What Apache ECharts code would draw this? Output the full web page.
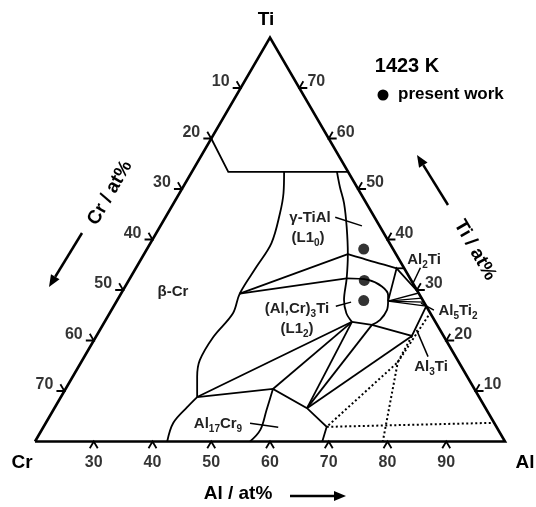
<!DOCTYPE html>
<html>
<head>
    <meta charset="utf-8">
    <title>Al-Cr-Ti 1423 K</title>
    <script src="https://cdn.jsdelivr.net/npm/echarts@6/dist/echarts.min.js"></script>
    <style>
        html, body { margin: 0; padding: 0; background: #fff; }
        #chart { width: 536px; height: 507px; }
    </style>
</head>
<body>
<div id="chart"></div>
<script>
    // every point is [Al at%, Ti at%], Cr = 100 - Al - Ti
    var alTicks = [30, 40, 50, 60, 70, 80, 90];
    var crTicks = [10, 20, 30, 40, 50, 60, 70];
    var tiTicks = [10, 20, 30, 40, 50, 60, 70];

    var frame = [[20, 0], [100, 0], [20, 80], [20, 0]];

    // curved boundaries
    var betaBoundary = [[35.7, 53.4], [37.7, 49.2], [39.1, 45.2], [40.6, 39.3], [40.4, 34.6], [40.2, 29.3], [41.0, 25.4],
        [40.0, 20.7], [40.0, 16.1], [41.2, 12.8], [43.2, 8.8]];
    var al17cr9Left = [[43.2, 8.8], [42.5, 6.8], [41.7, 3.7], [42.5, 0]];
    var gammaRight = [[44.7, 53.4], [46.7, 50.4], [49.0, 47.2], [51.8, 42.5], [54.7, 37.1], [56.9, 32.3], [58.6, 28.0],
        [60.3, 25.4], [62.1, 23.7]];
    var upperArc = [[54.7, 37.1], [57.1, 36.4], [60.1, 35.5], [64.4, 34.3]];
    var middleArc = [[56.9, 32.3], [60.7, 32.0], [63.7, 30.7], [65.6, 29.0], [66.2, 27.8]];
    var l12Edge = [[65.8, 23.1], [66.7, 24.1], [66.9, 26.0], [66.2, 27.8]];
    var al17cr9Right = [[55.3, 10.4], [56.3, 6.2], [57.2, 2.3], [56.6, 0]];

    // straight boundaries and tie lines
    var straightLines = [
        [[20, 60], [26.2, 53.4], [46.6, 53.4]],
        [[40.2, 29.3], [54.7, 37.1]],
        [[40.2, 29.3], [56.9, 32.3]],
        [[64.4, 34.3], [65.7, 34.3]],
        [[62.1, 23.7], [65.8, 23.1]],
        [[66.2, 27.8], [64.4, 34.3], [70.4, 29.6]],
        [[62.1, 23.7], [43.2, 8.8]],
        [[62.1, 23.7], [55.3, 10.4]],
        [[62.1, 23.7], [63.0, 6.6]],
        [[65.8, 23.1], [63.0, 6.6]],
        [[65.8, 23.1], [73.7, 20.9], [73.2, 26.8]],
        [[73.7, 20.9], [63.0, 6.6]],
        [[43.2, 8.8], [55.3, 10.4], [63.0, 6.6], [68.2, 2.9], [68.9, 0]]
    ];
    var fanLines = [
        [[66.2, 27.8], [70.6, 29.4]],
        [[66.2, 27.8], [71.6, 28.4]],
        [[66.2, 27.8], [72.4, 27.6]],
        [[66.2, 27.8], [73.2, 26.8]]
    ];
    var dottedLines = [
        [[74.5, 24.9], [73.9, 15.7], [79.2, 0]],
        [[73.7, 20.9], [73.9, 15.7], [68.2, 2.9], [96.3, 3.7]]
    ];
    var pointers = [
        [[48.9, 44.4], [54.3, 42.7]],
        [[68.4, 34.4], [68.7, 31.0]],
        [[72.0, 27.4], [74.9, 26.0]],
        [[73.9, 22.1], [78.5, 16.8]],
        [[57.8, 26.8], [60.0, 27.6]],
        [[54.8, 3.6], [60.0, 2.8]]
    ];
    var presentWork = [[56.9, 38.1], [60.1, 31.9], [62.0, 27.9]];

    var FONT = 'Liberation Sans, Arial, sans-serif';
    var S3 = Math.sqrt(3) / 2;

    function tern(p) {
        return [p[0] + p[1] / 2, p[1] * S3];
    }
    function toCoords(list) {
        return list.map(function (line) { return { coords: line.map(tern) }; });
    }

    // tick marks: short stubs of the two other grid directions
    var T = 1.35;
    var ticks = [];
    alTicks.forEach(function (a) {
        var p = tern([a, 0]);
        ticks.push({ coords: [[p[0] - T * 0.5, p[1] - T * S3], p, [p[0] + T * 0.5, p[1] - T * S3]] });
    });
    crTicks.forEach(function (c) {
        var p = tern([20, 80 - c]);
        ticks.push({ coords: [[p[0] - T, p[1]], p, [p[0] - T * 0.5, p[1] + T * S3]] });
    });
    tiTicks.forEach(function (t) {
        var p = tern([100 - t, t]);
        ticks.push({ coords: [[p[0] + T, p[1]], p, [p[0] + T * 0.5, p[1] + T * S3]] });
    });

    function tickLabels(vals, comp, opts) {
        return {
            type: 'scatter', symbolSize: 1, clip: false, silent: true,
            itemStyle: { color: 'transparent' },
            data: vals.map(function (v) { return { value: tern(comp(v)), name: String(v) }; }),
            label: Object.assign({
                show: true, position: 'inside', formatter: '{b}', color: '#000',
                fontSize: 16, fontWeight: 'bold', fontFamily: FONT
            }, opts)
        };
    }

    function lineSeries(data, width, type) {
        return {
            type: 'lines', coordinateSystem: 'cartesian2d', polyline: true, clip: false, silent: true,
            data: data,
            lineStyle: { color: '#000', width: width, type: type || 'solid', opacity: 1 }
        };
    }
    function curve(pts) {
        return {
            type: 'line', smooth: 0.35, symbol: 'none', clip: false, silent: true,
            data: pts.map(tern),
            lineStyle: { color: '#000', width: 1.8 }
        };
    }

    function arrow(x1, y1, x2, y2) {
        var ang = Math.atan2(y2 - y1, x2 - x1), h = 12, w = 5;
        var bx = x2 - h * Math.cos(ang), by = y2 - h * Math.sin(ang);
        return [
            { type: 'line', shape: { x1: x1, y1: y1, x2: bx, y2: by }, style: { stroke: '#000', lineWidth: 2.5 } },
            { type: 'polygon', shape: { points: [[x2, y2], [bx - w * Math.sin(ang), by + w * Math.cos(ang)],
                [bx + w * Math.sin(ang), by - w * Math.cos(ang)]] }, style: { fill: '#000' } }
        ];
    }

    function txt(x, y, s, size, extra) {
        return Object.assign({
            type: 'text', x: x, y: y,
            style: {
                text: s, fill: '#000', fontSize: size, fontWeight: 'bold', fontFamily: FONT,
                align: 'center', verticalAlign: 'middle',
                rich: { s: { fontSize: 10, fontWeight: 'bold', fontFamily: FONT, fill: '#222', verticalAlign: 'bottom', lineHeight: 20 } }
            }
        }, extra || {});
    }
    function phase(x, y, s) {
        var t = txt(x, y, s, 15);
        t.style.fill = '#222';
        return t;
    }

    var chart = echarts.init(document.getElementById('chart'));

    var option = {
        animation: false,
        backgroundColor: '#fff',
        grid: { left: 35, right: 31, top: 37.5, bottom: 65.5, outerBoundsMode: 'none' },
        xAxis: { type: 'value', min: 20, max: 100, show: false },
        yAxis: { type: 'value', min: 0, max: 80 * S3, show: false },
        series: [
            lineSeries([{ coords: frame.map(tern) }], 2.6),
            curve(betaBoundary),
            curve(al17cr9Left),
            curve(gammaRight),
            curve(upperArc),
            curve(middleArc),
            curve(l12Edge),
            curve(al17cr9Right),
            lineSeries(toCoords(straightLines), 1.8),
            lineSeries(toCoords(fanLines), 1.4),
            lineSeries(toCoords(dottedLines), 2, [2, 2.5]),
            lineSeries(toCoords(pointers), 1.5),
            lineSeries(ticks, 1.8),
            {
                type: 'scatter', symbol: 'circle', symbolSize: 11, clip: false, silent: true,
                itemStyle: { color: '#000' },
                data: presentWork.map(tern)
            },
            tickLabels(alTicks, function (a) { return [a, 0]; }, { offset: [0, 21.5] }),
            tickLabels(crTicks, function (c) { return [20, 80 - c]; }, { align: 'right', offset: [-11, -6] }),
            tickLabels(tiTicks, function (t) { return [100 - t, t]; }, { align: 'left', offset: [8, -6] })
        ],
        graphic: [
            txt(266, 20, 'Ti', 19),
            txt(22, 463, 'Cr', 19),
            txt(525, 463, 'Al', 19),
            txt(238, 494, 'Al / at%', 19),
            txt(110, 193, 'Cr / at%', 19, { rotation: Math.PI / 3 }),
            txt(475, 250, 'Ti / at%', 19, { rotation: -Math.PI / 3 }),
            txt(407, 66, '1423 K', 20),
            { type: 'circle', shape: { cx: 383, cy: 95, r: 5.5 }, style: { fill: '#000' } },
            txt(398, 94, 'present work', 17, { style: { text: 'present work', fill: '#000', fontSize: 17, fontWeight: 'bold',
                fontFamily: FONT, align: 'left', verticalAlign: 'middle' } }),
            phase(173, 292, '\u03b2-Cr'),
            phase(310, 218, '\u03b3-TiAl'),
            phase(308, 238, '(L1{s|0})'),
            phase(297, 309, '(Al,Cr){s|3}Ti'),
            phase(297, 329, '(L1{s|2})'),
            phase(424, 260, 'Al{s|2}Ti'),
            phase(458, 311, 'Al{s|5}Ti{s|2}'),
            phase(431, 367, 'Al{s|3}Ti'),
            phase(218, 424, 'Al{s|17}Cr{s|9}')
        ].concat(arrow(290, 496, 346, 496), arrow(82, 233, 49, 287), arrow(448, 205, 417, 155))
    };
    chart.setOption(option);
</script>
</body>
</html>
